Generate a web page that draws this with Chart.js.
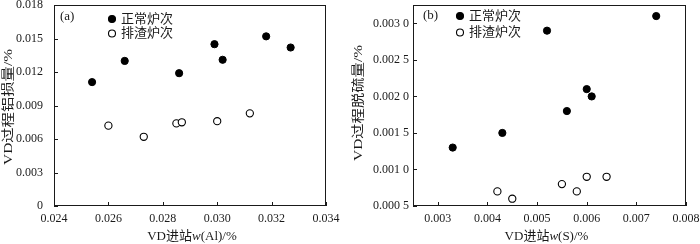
<!DOCTYPE html>
<html>
<head>
<meta charset="utf-8">
<script src="https://cdn.jsdelivr.net/npm/chart.js@4.4.1/dist/chart.umd.min.js"></script>
<style>
  body { margin: 0; background: #fff; width: 700px; height: 244px; position: relative; overflow: hidden; }
  .box { position: absolute; top: 0; width: 350px; height: 244px; }
</style>
</head>
<body>
<div class="box" style="left:0"><canvas id="chart-a" width="350" height="244"></canvas></div>
<div class="box" style="left:350px"><canvas id="chart-b" width="350" height="244"></canvas></div>
<script>
// (a) Al loss vs. incoming Al
const alNormalX = [0.0254, 0.0266, 0.0286, 0.0299, 0.0302, 0.0318, 0.0327]
const alNormalY = [0.0111, 0.0130, 0.0119, 0.0145, 0.0131, 0.0152, 0.0142]
const alSlagX = [0.0260, 0.0273, 0.0285, 0.0287, 0.0300, 0.0312]
const alSlagY = [0.0072, 0.0062, 0.0074, 0.0075, 0.0076, 0.0083]
const alXTicks = [0.024, 0.026, 0.028, 0.030, 0.032, 0.034]
const alXLabels = ['0.024', '0.026', '0.028', '0.030', '0.032', '0.034']
const alYTicks = [0, 0.003, 0.006, 0.009, 0.012, 0.015, 0.018]
const alYLabels = ['0', '0.003', '0.006', '0.009', '0.012', '0.015', '0.018']

// (b) desulfurisation vs. incoming S
const sNormalX = [0.0033, 0.0043, 0.0052, 0.0056, 0.0060, 0.0061, 0.0074]
const sNormalY = [0.0013, 0.0015, 0.0029, 0.0018, 0.0021, 0.0020, 0.0031]
const sSlagX = [0.0042, 0.0045, 0.0055, 0.0058, 0.0060, 0.0064]
const sSlagY = [0.0007, 0.0006, 0.0008, 0.0007, 0.0009, 0.0009]
const sXTicks = [0.003, 0.004, 0.005, 0.006, 0.007, 0.008]
const sXLabels = ['0.003', '0.004', '0.005', '0.006', '0.007', '0.008']
const sYTicks = [0.0005, 0.0010, 0.0015, 0.0020, 0.0025, 0.0030]
const sYLabels = ['0.000 5', '0.001 0', '0.001 5', '0.002 0', '0.002 5', '0.003 0']

const seriesNames = ['正常炉次', '排渣炉次']

const FAMILY = "'Liberation Serif', 'Noto Sans CJK SC', serif"
const INK = '#1a1a1a'

const toPoints = (xs, ys) => xs.map((x, i) => ({ x: x, y: ys[i] }))

// frame, inward ticks, panel tag, legend, axis titles (italic w, stretched y title)
const extras = {
  id: 'extras',
  afterDraw (chart, args, opts) {
    const { ctx, chartArea: a, scales: { x, y } } = chart
    ctx.save()
    ctx.strokeStyle = INK
    ctx.lineWidth = 1
    ctx.strokeRect(Math.round(a.left) + 0.5, Math.round(a.top) + 0.5, Math.round(a.width) - 1, Math.round(a.height) - 1)
    ctx.beginPath()
    for (const t of x.ticks) {
      const px = Math.round(x.getPixelForValue(t.value)) + 0.5
      ctx.moveTo(px, a.bottom)
      ctx.lineTo(px, a.bottom - 4)
    }
    for (const t of y.ticks) {
      const py = Math.round(y.getPixelForValue(t.value)) + 0.5
      ctx.moveTo(a.left, py)
      ctx.lineTo(a.left + 4, py)
    }
    ctx.stroke()

    ctx.fillStyle = INK
    ctx.textBaseline = 'middle'
    ctx.font = `13px ${FAMILY}`
    ctx.fillText(opts.tag, opts.tagX, opts.tagY)

    // legend
    chart.data.datasets.forEach((ds, i) => {
      const cy = opts.legendY + i * opts.legendGap
      ctx.beginPath()
      ctx.arc(opts.legendX, cy, 3.5, 0, Math.PI * 2)
      ctx.fillStyle = ds.backgroundColor
      ctx.fill()
      ctx.lineWidth = 1.1
      ctx.strokeStyle = ds.borderColor
      ctx.stroke()
      ctx.fillStyle = INK
      ctx.fillText(ds.label, opts.legendX + 9, cy + 0.5)
    })

    // y title, drawn a bit stretched along its length like the source
    ctx.save()
    ctx.translate(opts.yTitleX, opts.yTitleY)
    ctx.rotate(-Math.PI / 2)
    ctx.scale(1.18, 1)
    ctx.textAlign = 'center'
    ctx.font = `13px ${FAMILY}`
    ctx.fillText(opts.yTitle, 0, 0)
    ctx.restore()

    // x title
    const parts = opts.xTitle
    let total = 0
    for (const p of parts) {
      ctx.font = `${p[1] ? 'italic ' : ''}13px ${FAMILY}`
      total += ctx.measureText(p[0]).width
    }
    let cx = (a.left + a.right) / 2 - total / 2 + opts.xTitleShift
    ctx.textAlign = 'left'
    for (const p of parts) {
      ctx.font = `${p[1] ? 'italic ' : ''}13px ${FAMILY}`
      ctx.fillText(p[0], cx, opts.xTitleY)
      cx += ctx.measureText(p[0]).width
    }
    ctx.restore()
  }
}

function makeChart (id, cfg) {
  return new Chart(document.getElementById(id), {
    type: 'scatter',
    data: {
      datasets: [
        {
          label: seriesNames[0],
          data: toPoints(cfg.nx, cfg.ny),
          backgroundColor: '#000',
          borderColor: '#000',
          borderWidth: 1,
          pointRadius: 3.6
        },
        {
          label: seriesNames[1],
          data: toPoints(cfg.sx, cfg.sy),
          backgroundColor: '#fff',
          borderColor: '#000',
          borderWidth: 1.1,
          pointRadius: 3.6
        }
      ]
    },
    options: {
      responsive: false,
      animation: false,
      devicePixelRatio: 1,
      layout: { padding: { top: 5, right: cfg.padRight, bottom: 0, left: 0 } },
      plugins: {
        legend: { display: false },
        tooltip: { enabled: false },
        extras: cfg.extras
      },
      scales: {
        x: {
          type: 'linear',
          min: cfg.xMin,
          max: cfg.xMax,
          grid: { display: false, drawTicks: false },
          border: { display: false },
          afterBuildTicks: (s) => { s.ticks = cfg.xTicks.map(v => ({ value: v })) },
          afterFit: (s) => { s.height = 38; s.paddingLeft = 0; s.paddingRight = 0 },
          ticks: {
            color: INK,
            padding: 6,
            maxRotation: 0,
            font: { family: FAMILY, size: 12 },
            callback: (v, i) => cfg.xLabels[i]
          }
        },
        y: {
          type: 'linear',
          min: cfg.yMin,
          max: cfg.yMax,
          grid: { display: false, drawTicks: false },
          border: { display: false },
          afterBuildTicks: (s) => { s.ticks = cfg.yTicks.map(v => ({ value: v })) },
          afterFit: (s) => { s.width = cfg.yWidth; s.paddingTop = 0; s.paddingBottom = 0 },
          ticks: {
            color: INK,
            padding: cfg.yPad,
            font: { family: FAMILY, size: 12 },
            callback: (v, i) => cfg.yLabels[i]
          }
        }
      }
    },
    plugins: [extras]
  })
}

makeChart('chart-a', {
  nx: alNormalX, ny: alNormalY, sx: alSlagX, sy: alSlagY,
  xMin: 0.024, xMax: 0.034, yMin: 0, yMax: 0.018,
  xTicks: alXTicks, xLabels: alXLabels, yTicks: alYTicks, yLabels: alYLabels,
  yWidth: 54, yPad: 11, padRight: 24,
  extras: {
    tag: '(a)', tagX: 60, tagY: 17,
    legendX: 112, legendY: 19, legendGap: 14.5,
    yTitle: 'VD过程铝损量/%', yTitleX: 9, yTitleY: 107,
    xTitle: [['VD进站', false], ['w', true], ['(Al)/%', false]],
    xTitleY: 237, xTitleShift: 2
  }
})

makeChart('chart-b', {
  nx: sNormalX, ny: sNormalY, sx: sSlagX, sy: sSlagY,
  xMin: 0.0025, xMax: 0.008, yMin: 0.0005, yMax: 0.00325,
  xTicks: sXTicks, xLabels: sXLabels, yTicks: sYTicks, yLabels: sYLabels,
  yWidth: 63, yPad: 4, padRight: 14,
  extras: {
    tag: '(b)', tagX: 73, tagY: 16,
    legendX: 110, legendY: 16, legendGap: 16.5,
    yTitle: 'VD过程脱硫量/%', yTitleX: 9, yTitleY: 103,
    xTitle: [['VD进站', false], ['w', true], ['(S)/%', false]],
    xTitleY: 237, xTitleShift: -3
  }
})
</script>
</body>
</html>
